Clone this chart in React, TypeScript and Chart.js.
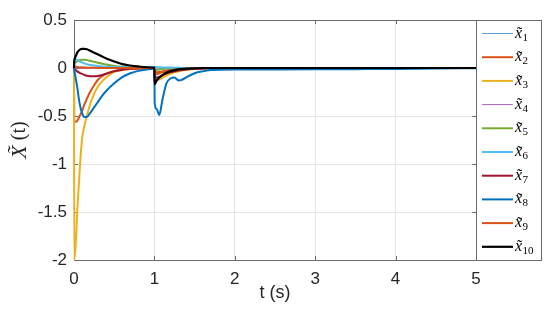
import React, { useEffect, useRef } from "react";
import { Chart, registerables } from "chart.js";

Chart.register(...registerables);

// time samples (s)
const T = [0, 0.003, 0.02, 0.04, 0.07, 0.1, 0.13, 0.16, 0.2, 0.25,
  0.3, 0.35, 0.4, 0.5, 0.6, 0.7, 0.8, 0.9, 1.0, 1.003,
  1.03, 1.06, 1.1, 1.15, 1.2, 1.25, 1.3, 1.35, 1.4, 1.5,
  1.6, 1.7, 1.8, 2.0, 2.5, 3, 3.5, 4, 4.5, 5];

const X1 = [0, 0.02, 0.02, 0.015, 0.012, 0.01, 0.008, 0.006, 0.005, 0.004,
  0.003, 0.002, 0.002, 0.001, 0.001, 0, 0, 0, 0, -0.02,
  -0.02, -0.015, -0.01, -0.007, -0.005, -0.003, -0.002, -0.001, 0, 0,
  0, 0, 0, 0, 0, 0, 0, 0, 0, 0];
const X2 = [0, -0.55, -0.56, -0.55, -0.5, -0.45, -0.38, -0.32, -0.25, -0.18,
  -0.12, -0.085, -0.06, -0.03, -0.015, -0.008, -0.004, -0.002, 0, -0.04,
  -0.045, -0.04, -0.035, -0.025, -0.02, -0.015, -0.01, -0.008, -0.005, -0.003,
  -0.001, 0, 0, 0, 0, 0, 0, 0, 0, 0];
const X3 = [0, -2, -1.86, -1.5, -1.07, -0.74, -0.6, -0.5, -0.38, -0.27,
  -0.19, -0.14, -0.1, -0.04, -0.02, -0.01, -0.005, -0.002, 0, -0.1,
  -0.12, -0.12, -0.1, -0.08, -0.06, -0.045, -0.035, -0.025, -0.018, -0.01,
  -0.005, -0.003, -0.002, 0, 0, 0, 0, 0, 0, 0];
const X4 = [0, -0.005, -0.005, -0.005, -0.005, -0.004, -0.004, -0.003, -0.003, -0.002,
  -0.002, -0.001, -0.001, 0, 0, 0, 0, 0, 0, -0.01,
  -0.01, -0.008, -0.006, -0.004, -0.003, -0.002, -0.001, 0, 0, 0,
  0, 0, 0, 0, 0, 0, 0, 0, 0, 0];
const X5 = [0, 0.05, 0.06, 0.07, 0.08, 0.085, 0.085, 0.082, 0.075, 0.065,
  0.055, 0.045, 0.036, 0.022, 0.013, 0.007, 0.004, 0.002, 0.001, -0.02,
  -0.02, -0.015, -0.01, -0.006, -0.004, -0.002, -0.001, 0, 0, 0,
  0, 0, 0, 0, 0, 0, 0, 0, 0, 0];
const X6 = [0, 0.1, 0.095, 0.085, 0.07, 0.058, 0.048, 0.04, 0.032, 0.025,
  0.02, 0.016, 0.013, 0.01, 0.008, 0.007, 0.006, 0.006, 0.006, 0.01,
  0.01, 0.008, 0.006, 0.005, 0.004, 0.003, 0.002, 0.001, 0, 0,
  0, 0, 0, 0, 0, 0, 0, 0, 0, 0];
const X7 = [0, -0.005, -0.02, -0.035, -0.05, -0.062, -0.072, -0.08, -0.085, -0.087,
  -0.083, -0.072, -0.06, -0.035, -0.018, -0.009, -0.004, -0.002, -0.001, -0.1,
  -0.1, -0.09, -0.075, -0.058, -0.045, -0.035, -0.026, -0.02, -0.015, -0.008,
  -0.004, -0.002, 0, 0, 0, 0, 0, 0, 0, 0];
const X8 = [0, -0.02, -0.1, -0.2, -0.37, -0.47, -0.51, -0.51, -0.47, -0.41,
  -0.35, -0.29, -0.24, -0.16, -0.095, -0.055, -0.03, -0.015, -0.008, -0.36,
  -0.43, -0.49, -0.33, -0.16, -0.11, -0.1, -0.13, -0.12, -0.095, -0.055,
  -0.035, -0.022, -0.017, -0.015, -0.015, -0.014, -0.012, -0.01, -0.006, -0.003];
const X9 = [0, 0.008, 0.008, 0.007, 0.006, 0.005, 0.004, 0.003, 0.002, 0.002,
  0.001, 0.001, 0.001, 0, 0, 0, 0, 0, 0, -0.065,
  -0.065, -0.055, -0.045, -0.035, -0.026, -0.019, -0.014, -0.01, -0.007, -0.004,
  -0.002, 0, 0, 0, 0, 0, 0, 0, 0, 0];
const X10 = [0, 0.07, 0.12, 0.16, 0.19, 0.2, 0.2, 0.195, 0.18, 0.16,
  0.14, 0.12, 0.1, 0.068, 0.04, 0.026, 0.016, 0.008, 0.004, -0.17,
  -0.13, -0.1, -0.075, -0.05, -0.033, -0.022, -0.014, -0.009, -0.006, -0.003,
  -0.001, 0, 0, 0, 0, 0, 0, 0, 0, 0];

const SERIES = [X1, X2, X3, X4, X5, X6, X7, X8, X9, X10];
const SUBSCRIPTS = ["1", "2", "3", "4", "5", "6", "7", "8", "9", "10"];
const COLORS = ["#5b9bd5", "#D95319", "#EDB120", "#a862bd", "#77AC30",
  "#4DBEEE", "#A2142F", "#0072BD", "#D95319", "#000000"];
const WIDTHS = [1, 2, 2, 1, 2, 2, 2, 2, 2, 2.2];

const X_TICKS = [0, 1, 2, 3, 4, 5];
const Y_TICKS = [0.5, 0, -0.5, -1, -1.5, -2];
const X_TITLE = "t (s)";

const overlay = {
  id: "overlay",
  beforeDatasetsDraw(chart: any) {
    const ctx = chart.ctx;
    const a = chart.chartArea;
    const xs = chart.scales.x;
    const ys = chart.scales.y;
    ctx.save();
    ctx.strokeStyle = "#6b6b6b";
    ctx.lineWidth = 1;
    ctx.strokeRect(Math.round(a.left) + 0.5, Math.round(a.top) + 0.5,
      Math.round(a.right - a.left), Math.round(a.bottom - a.top));
    const tl = 4;
    ctx.beginPath();
    X_TICKS.forEach((v) => {
      const px = Math.round(xs.getPixelForValue(v)) + 0.5;
      ctx.moveTo(px, a.bottom); ctx.lineTo(px, a.bottom - tl);
      ctx.moveTo(px, a.top); ctx.lineTo(px, a.top + tl);
    });
    Y_TICKS.forEach((v) => {
      const py = Math.round(ys.getPixelForValue(v)) + 0.5;
      ctx.moveTo(a.left, py); ctx.lineTo(a.left + tl, py);
      ctx.moveTo(a.right, py); ctx.lineTo(a.right - tl, py);
    });
    ctx.stroke();
    ctx.restore();
  },
  afterDraw(chart: any) {
    const ctx = chart.ctx;
    const a = chart.chartArea;
    ctx.save();
    // x title
    ctx.fillStyle = "#262626";
    ctx.font = "18px 'Liberation Sans', Arial, sans-serif";
    ctx.textAlign = "center";
    ctx.textBaseline = "middle";
    ctx.fillText(X_TITLE, (a.left + a.right) / 2, 293);

    // y title
    ctx.save();
    ctx.translate(20, (a.top + a.bottom) / 2);
    ctx.rotate(-Math.PI / 2);
    ctx.textBaseline = "middle";
    ctx.font = "italic 22px 'Liberation Serif', 'DejaVu Serif', serif";
    const xPart = "X\u0303";
    const rest = " (t)";
    const w1 = ctx.measureText(xPart).width;
    ctx.font = "20px 'Liberation Serif', 'DejaVu Serif', serif";
    const w2 = ctx.measureText(rest).width;
    const start = -(w1 + w2) / 2;
    ctx.textAlign = "left";
    ctx.font = "italic 22px 'Liberation Serif', 'DejaVu Serif', serif";
    ctx.fillText(xPart, start, 0);
    ctx.font = "20px 'Liberation Serif', 'DejaVu Serif', serif";
    ctx.fillText(rest, start + w1, 0);
    ctx.restore();

    // legend
    const lx = Math.round(a.right) + 0.5;
    const ly = Math.round(a.top) + 0.5;
    const lw = 65;
    const lh = Math.round(a.bottom - a.top);
    ctx.fillStyle = "#ffffff";
    ctx.fillRect(lx, ly, lw, lh);
    ctx.strokeStyle = "#6b6b6b";
    ctx.lineWidth = 1;
    ctx.strokeRect(lx, ly, lw, lh);
    SUBSCRIPTS.forEach((s, i) => {
      const cy = 33.5 + i * 23.7;
      ctx.strokeStyle = COLORS[i];
      ctx.lineWidth = WIDTHS[i];
      ctx.beginPath();
      ctx.moveTo(482, cy); ctx.lineTo(513, cy);
      ctx.stroke();
      ctx.fillStyle = "#000000";
      ctx.textAlign = "left";
      ctx.textBaseline = "alphabetic";
      ctx.font = "italic 16px 'Liberation Serif', 'DejaVu Serif', serif";
      const xs1 = "x\u0303";
      ctx.fillText(xs1, 515, cy + 4);
      const w = ctx.measureText(xs1).width;
      ctx.font = "11px 'Liberation Serif', 'DejaVu Serif', serif";
      ctx.fillText(s, 515 + w + 0.5, cy + 7);
    });
    ctx.restore();
  },
};

export default function App() {
  const ref = useRef<HTMLCanvasElement | null>(null);
  useEffect(() => {
    document.body.style.margin = "0";
    const canvas = ref.current;
    if (!canvas) return;
    const tickFont = { family: "'Liberation Sans', Arial, sans-serif", size: 17 };
    const chart = new Chart(canvas, {
      type: "line",
      data: {
        datasets: SERIES.map((vals, i) => ({
          label: "x" + SUBSCRIPTS[i],
          data: T.map((t, k) => ({ x: t, y: vals[k] })),
          borderColor: COLORS[i],
          backgroundColor: COLORS[i],
          borderWidth: WIDTHS[i],
          pointRadius: 0,
          cubicInterpolationMode: "monotone" as const,
          fill: false,
          clip: 3,
          order: SERIES.length - i,
        })),
      },
      options: {
        responsive: false,
        animation: false,
        devicePixelRatio: 1,
        layout: { padding: { left: 0, right: 74, top: 20, bottom: 0 } },
        plugins: { legend: { display: false }, tooltip: { enabled: false } },
        scales: {
          x: {
            type: "linear",
            min: 0,
            max: 5,
            afterBuildTicks: (s: any) => { s.ticks = X_TICKS.map((v) => ({ value: v })); },
            afterFit: (s: any) => { s.height = 50; },
            ticks: { font: tickFont, color: "#262626", padding: 9, maxRotation: 0,
              callback: (v: any) => String(v) },
            grid: { color: "#e4e4e4", drawTicks: false },
            border: { display: false },
          },
          y: {
            type: "linear",
            min: -2,
            max: 0.5,
            afterBuildTicks: (s: any) => { s.ticks = Y_TICKS.map((v) => ({ value: v })); },
            afterFit: (s: any) => { s.width = 74; },
            ticks: { font: tickFont, color: "#262626", padding: 7,
              callback: (v: any) => String(v) },
            grid: { color: "#e4e4e4", drawTicks: false },
            border: { display: false },
          },
        },
      },
      plugins: [overlay],
    });
    return () => chart.destroy();
  }, []);
  return <canvas ref={ref} width={550} height={310} style={{ display: "block" }} />;
}
